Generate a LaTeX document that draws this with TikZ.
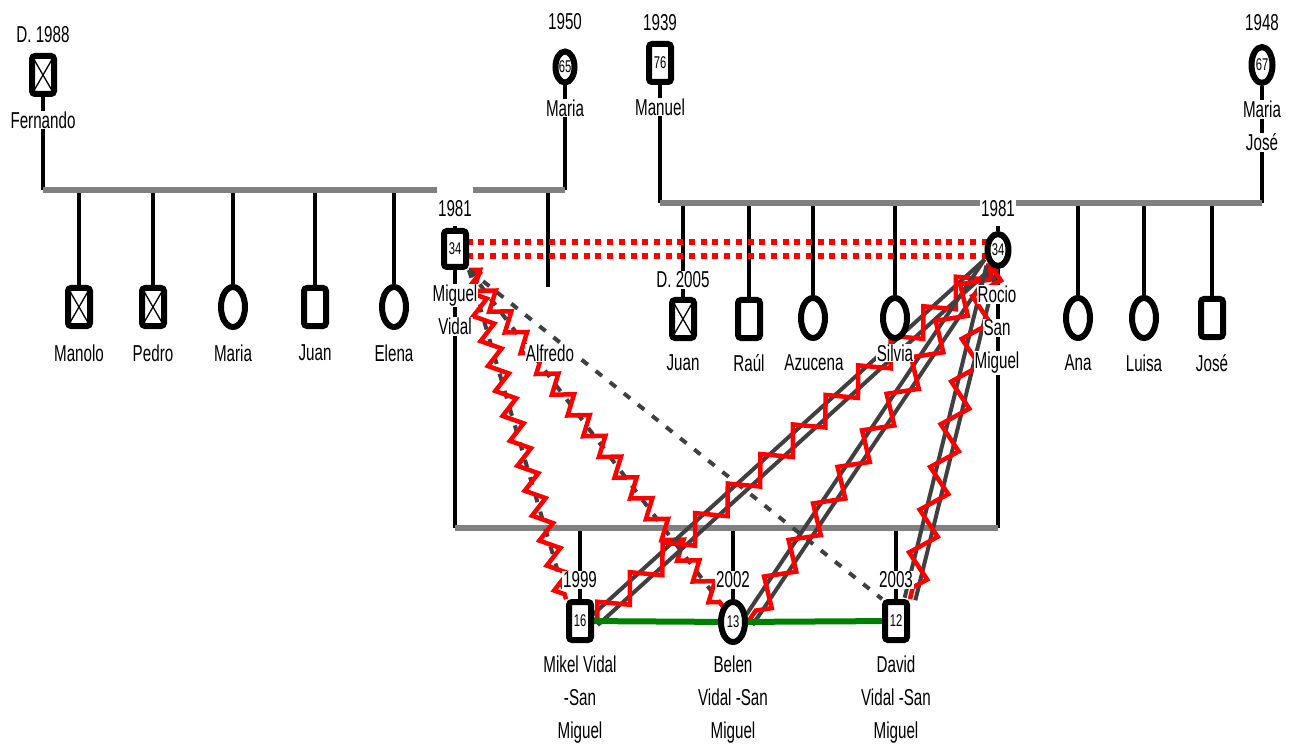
\documentclass[tikz,border=0pt]{standalone}
\usepackage{fontspec}
\setmainfont[FakeStretch=0.66]{Liberation Sans}
\usepackage{tikz}
\usetikzlibrary{shapes.geometric,decorations.pathmorphing,calc,positioning}
\definecolor{barGray}{HTML}{808080}
\definecolor{tieGray}{HTML}{404040}
\definecolor{feudRed}{HTML}{FF0000}
\definecolor{calmGreen}{HTML}{008000}
\pgfdeclarelayer{bg}
\pgfsetlayers{bg,main}
\setlength{\fboxsep}{1pt}
\newcommand{\wbox}[1]{\colorbox{white}{#1}}

\begin{document}
\begin{tikzpicture}[x=1pt,y=-1pt,
  font=\fontsize{23}{33}\selectfont,
  male/.style={draw,line width=6pt,rounded corners=3pt,fill=white,inner sep=0pt,
               minimum width=22pt,minimum height=38pt,font=\fontsize{17}{17}\selectfont},
  female/.style={ellipse,draw,line width=6pt,fill=white,inner sep=0pt,
               minimum width=24pt,minimum height=40pt,font=\fontsize{17}{17}\selectfont},
  deceased/.style={male,path picture={\draw[line width=1.3pt]
      (path picture bounding box.north west)--(path picture bounding box.south east)
      (path picture bounding box.north east)--(path picture bounding box.south west);}},
  tag/.style={fill=white,inner sep=1pt},
  tags/.style={align=center,inner sep=0pt},
  stem/.style={line width=4pt},
  sibbar/.style={line width=6pt,draw=barGray},
  rift/.style={line width=6pt,draw=feudRed,dash pattern=on 6pt off 5.7pt},
  distant/.style={line width=4pt,draw=tieGray,dash pattern=on 8pt off 10pt},
  bond/.style={line width=4pt,draw=tieGray},
  feud/.style={line width=4.5pt,draw=feudRed,decorate,
               decoration={zigzag,segment length=44pt,amplitude=12pt}},
  spat/.style={feud,decoration={zigzag,segment length=26pt,amplitude=9pt}},
  harmony/.style={line width=6pt,draw=calmGreen}
]
\useasboundingbox (0,0) rectangle (1302,746);
% grandparents
\node[deceased] (fer) at (43,75) {};
\node[female,minimum width=19pt,minimum height=31pt] (mar1) at (565,67) {65};
\node[male] (man) at (660,63) {76};
\node[female,minimum width=21pt,minimum height=36pt] (mjo) at (1262,65) {67};
% children of Fernando and Maria
\node[deceased] (mano) at (79,307) {};
\node[deceased] (ped) at (153,307) {};
\node[female] (mar2) at (233,307) {};
\node[male] (jua1) at (315,307) {};
\node[female] (ele) at (394,307) {};
\node[male,minimum height=36pt] (mig) at (455,249) {34};
\coordinate (alf) at (548,287);
% children of Manuel and Maria Jose
\node[deceased] (jua2) at (683,319) {};
\node[male] (rau) at (749,319) {};
\node[female] (azu) at (813,318) {};
\node[female] (sil) at (895,318) {};
\node[female,minimum width=21pt,minimum height=32pt] (roc) at (998,250) {34};
\node[female] (ana) at (1078,318) {};
\node[female] (lui) at (1144,318) {};
\node[male] (jos) at (1212,318) {};
% grandchildren
\node[male] (mik) at (580,621) {16};
\node[female] (bel) at (733,622) {13};
\node[male] (dav) at (896,621) {12};
\coordinate (wed1) at (0,190);
\coordinate (wed2) at (0,203);
\coordinate (wed3) at (0,528);

% years and names
\node[tag] (fer-yr) at (43,35) {D. 1988};
\node[tag] (fer-nm) at (43,120) {Fernando};
\node[tag] (mar1-yr) at (565,22) {1950};
\node[tag] (mar1-nm) at (565,108) {Maria};
\node[tag] (man-yr) at (660,23) {1939};
\node[tag] (man-nm) at (660,107) {Manuel};
\node[tag] (mjo-yr) at (1262,23) {1948};
\node[tags] (mjo-nm) at (1262,126) {\wbox{Maria}\\\wbox{José}};
\node[tag] (mano-nm) at (79,353) {Manolo};
\node[tag] (ped-nm) at (153,353) {Pedro};
\node[tag] (mar2-nm) at (233,353) {Maria};
\node[tag] (jua1-nm) at (315,353) {Juan};
\node[tag] (ele-nm) at (394,353) {Elena};
\node[tag,anchor=base,text height=31pt,text depth=8pt] (mig-yr) at (455,217) {1981};
\node[tags] (mig-nm) at (455,310) {\wbox{Miguel}\\\wbox{Vidal}};
\node[tag] (alf-nm) at (550,353) {Alfredo};
\node[tag] (jua2-yr) at (683,280) {D. 2005};
\node[tag] (jua2-nm) at (683,363) {Juan};
\node[tag] (rau-nm) at (749,363) {Raúl};
\node[tag] (azu-nm) at (814,363) {Azucena};
\node[tag] (sil-nm) at (895,353) {Silvia};
\node[tag,anchor=base,text height=18pt,text depth=8pt] (roc-yr) at (998,217) {1981};
\node[tags] (roc-nm) at (997,330) {\wbox{Rocio}\\\wbox{San}\\\wbox{Miguel}};
\node[tag] (ana-nm) at (1078,363) {Ana};
\node[tag] (lui-nm) at (1144,363) {Luisa};
\node[tag] (jos-nm) at (1212,363) {José};
\node[tag] (mik-yr) at (580,580) {1999};
\node[tag] (bel-yr) at (733,580) {2002};
\node[tag] (dav-yr) at (896,580) {2003};
\node[tags] (mik-nm) at (580,700) {\wbox{Mikel Vidal}\\\wbox{-San}\\\wbox{Miguel}};
\node[tags] (bel-nm) at (733,700) {\wbox{Belen}\\\wbox{Vidal -San}\\\wbox{Miguel}};
\node[tags] (dav-nm) at (896,700) {\wbox{David}\\\wbox{Vidal -San}\\\wbox{Miguel}};

\begin{pgfonlayer}{bg}
% first family
\draw[stem] (fer.south) -- (fer.south |- wed1); \draw[stem] (mar1.south) -- (mar1.south |- wed1);
\draw[stem] (mano.north) -- (mano.north |- wed1); \draw[stem] (ped.north) -- (ped.north |- wed1);
\draw[stem] (mar2.north) -- (mar2.north |- wed1); \draw[stem] (jua1.north) -- (jua1.north |- wed1);
\draw[stem] (ele.north) -- (ele.north |- wed1); \draw[stem] (mig.north) -- (mig.north |- wed1);
\draw[stem] (alf) -- (alf |- wed1);
\draw[sibbar] (fer.south |- wed1) -- (mar1.south |- wed1);
% second family
\draw[stem] (man.south) -- (man.south |- wed2); \draw[stem] (mjo.south) -- (mjo.south |- wed2);
\draw[stem] (jua2.north) -- (jua2.north |- wed2); \draw[stem] (rau.north) -- (rau.north |- wed2);
\draw[stem] (azu.north) -- (azu.north |- wed2); \draw[stem] (sil.north) -- (sil.north |- wed2);
\draw[stem] (roc.north) -- (roc.north |- wed2); \draw[stem] (ana.north) -- (ana.north |- wed2);
\draw[stem] (lui.north) -- (lui.north |- wed2); \draw[stem] (jos.north) -- (jos.north |- wed2);
\draw[sibbar] (man.south |- wed2) -- (mjo.south |- wed2);
% Miguel and Rocio
\draw[stem] (mig.south) -- (mig.south |- wed3); \draw[stem] (roc.south) -- (roc.south |- wed3);
\draw[stem] (mik.north) -- (mik.north |- wed3); \draw[stem] (bel.north) -- (bel.north |- wed3);
\draw[stem] (dav.north) -- (dav.north |- wed3);
\draw[sibbar] (mig.south |- wed3) -- (roc.south |- wed3);
% relationships
\draw[rift] ([yshift=7pt]mig.center) -- ([yshift=7pt]mig.center -| roc.center);
\draw[rift] ([yshift=-7pt]mig.center) -- ([yshift=-7pt]mig.center -| roc.center);
\draw[distant] (mig.south east) -- (mik.north west); \draw[spat] (mig.south east) -- (mik.north west);
\draw[distant] (mig.south east) -- (bel.north west); \draw[spat] (mig.south east) -- (bel.north west);
\draw[distant] (mig.south east) -- (dav.north west);
\draw[bond] ($(roc.south west)!5.5pt!90:(mik.east)$) -- ($(mik.east)!5.5pt!-90:(roc.south west)$);
\draw[bond] ($(roc.south west)!5.5pt!-90:(mik.east)$) -- ($(mik.east)!5.5pt!90:(roc.south west)$);
\draw[feud] (roc.south west) -- (mik.east);
\draw[bond] ($(roc.south west)!5.5pt!90:(bel.east)$) -- ($(bel.east)!5.5pt!-90:(roc.south west)$);
\draw[bond] ($(roc.south west)!5.5pt!-90:(bel.east)$) -- ($(bel.east)!5.5pt!90:(roc.south west)$);
\draw[feud] (roc.south west) -- (bel.east);
\draw[bond] ($(roc.250)!5.5pt!90:(dav.north east)$) -- ($(dav.north east)!5.5pt!-90:(roc.250)$);
\draw[bond] ($(roc.250)!5.5pt!-90:(dav.north east)$) -- ($(dav.north east)!5.5pt!90:(roc.250)$);
\draw[feud] (roc.250) -- (dav.north east);
\draw[harmony] (mik) -- (bel) (bel) -- (dav);
\end{pgfonlayer}
\end{tikzpicture}
\end{document}
